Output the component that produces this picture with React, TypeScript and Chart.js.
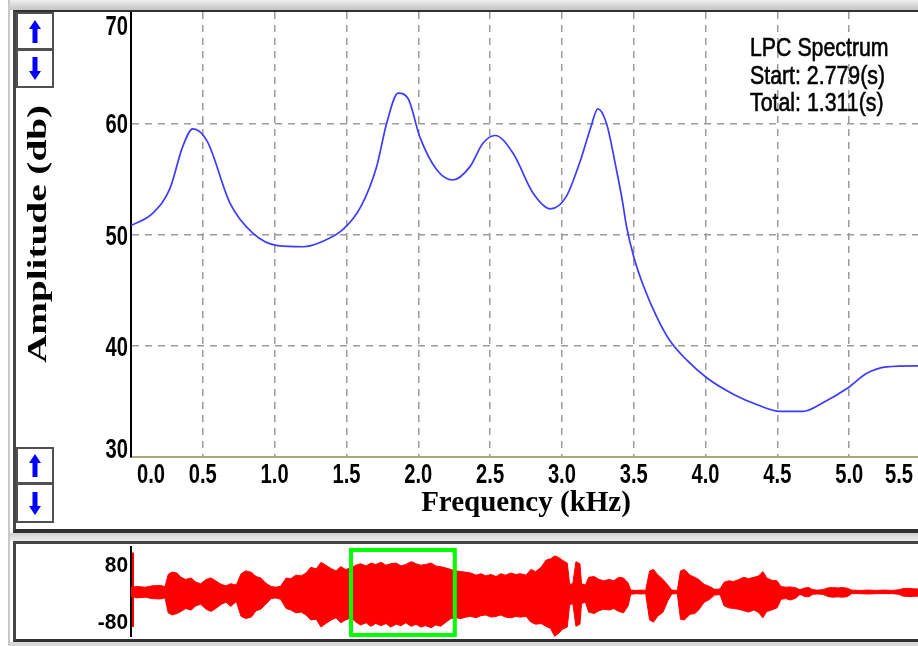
import React, { useEffect, useRef } from "react";
import { Chart, registerables } from "chart.js";

Chart.register(...registerables);

// ---------- LPC spectrum (main chart) ----------
const freqKHz = [0, 0.15, 0.27, 0.36, 0.43, 0.53, 0.69, 0.85, 1.02, 1.2, 1.32, 1.48, 1.6, 1.71, 1.78, 1.86, 1.93, 2.01, 2.13, 2.24, 2.36, 2.45, 2.535, 2.66, 2.8, 2.92, 3.03, 3.13, 3.2, 3.25, 3.31, 3.38, 3.42, 3.45, 3.5, 3.57, 3.66, 3.75, 3.87, 4.01, 4.2, 4.36, 4.52, 4.68, 4.82, 4.99, 5.12, 5.26, 5.47, 5.5];
const ampDb = [50.8, 51.9, 54.1, 57.9, 59.5, 58.4, 52.8, 50.1, 49.0, 48.9, 49.3, 50.5, 52.5, 56.1, 60.0, 62.7, 62.2, 58.8, 55.8, 54.9, 56.1, 58.2, 58.9, 57.3, 53.7, 52.3, 53.4, 56.7, 59.6, 61.3, 60.0, 55.8, 53.1, 50.7, 48.0, 45.3, 42.6, 40.5, 38.7, 37.1, 35.6, 34.7, 34.1, 34.1, 34.9, 36.2, 37.5, 38.1, 38.2, 38.2];
const freqMin = 0;
const freqMax = 5.5;
const freqStep = 0.5;
const ampMin = 30;
const ampMax = 70;
const ampStep = 10;
const xTitle = "Frequency (kHz)";
const yTitle = "Amplitude (db)";
const infoLines = ["LPC Spectrum", "Start: 2.779(s)", "Total: 1.311(s)"];

// ---------- waveform overview (bottom strip) ----------
const waveT = [0.00, 0.08, 0.18, 0.27, 0.37, 0.43, 0.47, 0.52, 0.58, 0.63, 0.69, 0.76, 0.82, 0.88, 0.95, 1.01, 1.07, 1.14, 1.20, 1.26, 1.33, 1.39, 1.45, 1.52, 1.58, 1.64, 1.70, 1.77, 1.83, 1.89, 1.96, 2.02, 2.08, 2.15, 2.21, 2.27, 2.34, 2.40, 2.46, 2.53, 2.59, 2.65, 2.71, 2.78, 2.84, 2.90, 2.97, 3.03, 3.09, 3.16, 3.22, 3.28, 3.35, 3.41, 3.47, 3.54, 3.60, 3.66, 3.72, 3.79, 3.85, 3.91, 3.98, 4.04, 4.10, 4.17, 4.23, 4.29, 4.36, 4.42, 4.48, 4.55, 4.61, 4.67, 4.73, 4.80, 4.86, 4.92, 4.99, 5.05, 5.11, 5.18, 5.24, 5.30, 5.35, 5.40, 5.45, 5.51, 5.54, 5.58, 5.62, 5.67, 5.69, 5.74, 5.78, 5.85, 5.91, 5.97, 6.04, 6.10, 6.16, 6.22, 6.28, 6.31, 6.38, 6.44, 6.50, 6.55, 6.60, 6.65, 6.72, 6.78, 6.83, 6.90, 6.94, 6.99, 7.06, 7.12, 7.17, 7.24, 7.31, 7.37, 7.44, 7.49, 7.55, 7.61, 7.68, 7.74, 7.80, 7.87, 7.93, 7.98, 8.03, 8.09, 8.16, 8.21, 8.27, 8.33, 8.40, 8.45, 8.51, 8.56, 8.61, 8.67, 8.74, 8.80, 8.86, 8.93, 8.99, 9.05, 9.10, 9.20, 9.31, 9.41, 9.51, 9.61, 9.70, 9.75, 9.81, 9.87, 9.94];
const waveHi = [12, 14, 12, 16, 17, 14, 48, 55, 52, 40, 34, 38, 26, 22, 34, 38, 30, 20, 16, 22, 18, 50, 58, 54, 42, 38, 24, 14, 12, 15, 38, 36, 46, 44, 52, 68, 64, 82, 74, 64, 58, 70, 62, 66, 74, 78, 72, 80, 76, 82, 74, 78, 80, 72, 76, 84, 78, 74, 76, 80, 72, 70, 66, 62, 58, 56, 54, 52, 46, 50, 44, 48, 42, 50, 46, 52, 48, 50, 46, 62, 56, 68, 88, 92, 100, 96, 88, 80, 20, 22, 84, 78, 22, 18, 40, 42, 34, 30, 34, 30, 40, 38, 24, 4, 3, 4, 3, 58, 62, 48, 34, 18, 4, 3, 58, 62, 46, 40, 34, 20, 14, 6, 7, 26, 30, 28, 34, 40, 36, 40, 44, 56, 38, 32, 30, 14, 12, 13, 10, 5, 10, 11, 5, 4, 5, 10, 11, 10, 11, 9, 4, 3, 4, 3, 4, 3, 5, 8, 9, 8, 7];
const waveLo = [-14, -18, -16, -20, -21, -18, -60, -66, -62, -56, -48, -52, -40, -36, -50, -56, -48, -36, -30, -42, -28, -70, -76, -72, -54, -50, -36, -20, -18, -22, -48, -52, -60, -58, -66, -80, -78, -100, -90, -80, -74, -88, -80, -74, -86, -94, -88, -98, -90, -96, -90, -100, -92, -96, -88, -98, -92, -100, -96, -102, -94, -98, -86, -76, -74, -76, -72, -70, -74, -68, -66, -72, -70, -66, -72, -74, -70, -72, -70, -86, -92, -90, -98, -104, -126, -118, -106, -100, -38, -34, -98, -92, -34, -30, -58, -62, -54, -50, -52, -48, -56, -60, -40, -8, -6, -7, -6, -80, -86, -70, -58, -26, -7, -6, -78, -80, -64, -62, -52, -30, -22, -10, -9, -40, -46, -48, -50, -54, -58, -52, -60, -74, -56, -52, -46, -22, -20, -24, -18, -8, -14, -15, -8, -7, -8, -14, -16, -15, -16, -14, -6, -6, -7, -6, -6, -6, -8, -13, -14, -14, -13];
const waveTMax = 9.94;
const waveAmpMin = -128;
const waveAmpMax = 128;
const waveTicks = [-80, 80];
const selStart = 2.779;
const selTotal = 1.311;
const selCursorHi = 58;
const selCursorLo = -72;
const startMarkerHi = 110;
const startMarkerLo = -100;

const SANS = "'Liberation Sans', Arial, sans-serif";
const SERIF = "'Liberation Serif', 'Times New Roman', serif";

function drawScaled(ctx: CanvasRenderingContext2D, text: string, x: number, y: number, align: CanvasTextAlign, sx: number) {
  ctx.save();
  ctx.translate(x, y);
  ctx.scale(sx, 1);
  ctx.textAlign = align;
  ctx.textBaseline = "alphabetic";
  ctx.fillText(text, 0, 0);
  ctx.restore();
}

function Arrow({ dir }: { dir: "up" | "down" }) {
  const pts = dir === "up"
    ? "6,0 12,9 8.5,9 8.5,23 3.5,23 3.5,9 0,9"
    : "3.5,0 8.5,0 8.5,14 12,14 6,23 0,14 3.5,14";
  return (
    <svg width={12} height={23} style={{ display: "block" }}>
      <polygon points={pts} fill="#0000ff" />
    </svg>
  );
}

function Btn({ top, height, dir }: { top: number; height: number; dir: "up" | "down" }) {
  return (
    <div
      style={{
        position: "absolute",
        left: 16,
        top,
        width: 38,
        height,
        boxSizing: "border-box",
        border: "2px solid #505050",
        background: "#fff",
        display: "flex",
        alignItems: "center",
        justifyContent: "center",
      }}
    >
      <Arrow dir={dir} />
    </div>
  );
}

export default function App() {
  const mainRef = useRef<HTMLCanvasElement | null>(null);
  const waveRef = useRef<HTMLCanvasElement | null>(null);

  useEffect(() => {
    const mainCanvas = mainRef.current;
    const waveCanvas = waveRef.current;
    if (!mainCanvas || !waveCanvas) return;

    const gridGray = "#9a9a9a";
    const clear = "rgba(0,0,0,0)";

    // tick labels in the condensed, tall style of the original, placed from the scales
    const mainTicks = {
      id: "mainTicks",
      afterDraw(chart: any) {
        const { ctx, chartArea, scales } = chart;
        const xs = scales.x;
        const ys = scales.y;
        ctx.save();
        ctx.fillStyle = "#000";
        ctx.font = `bold 28px ${SANS}`;
        ys.ticks.forEach((t: any) => {
          const py = ys.getPixelForValue(t.value);
          let base = py + 10;
          if (t.value === ampMax) base = chartArea.top + 23;
          else if (t.value === ampMin) base = chartArea.bottom + 1;
          drawScaled(ctx, String(t.value), chartArea.left - 3, base, "right", 0.72);
        });
        const n = xs.ticks.length;
        xs.ticks.forEach((t: any, i: number) => {
          const px = xs.getPixelForValue(t.value);
          let align: CanvasTextAlign = "center";
          let xx = px;
          if (i === 0) {
            align = "left";
            xx = px + 6;
          } else if (i === n - 1) {
            align = "right";
            xx = px - 8;
          }
          drawScaled(ctx, Number(t.value).toFixed(1), xx, chartArea.bottom + 26, align, 0.72);
        });
        ctx.restore();
      },
    };

    const mainChart = new Chart(mainCanvas, {
      type: "line",
      data: {
        datasets: [
          {
            data: freqKHz.map((f, i) => ({ x: f, y: ampDb[i] })),
            borderColor: "#3c3cff",
            borderWidth: 1.7,
            pointRadius: 0,
            fill: false,
            cubicInterpolationMode: "monotone",
          },
        ],
      },
      options: {
        animation: false,
        responsive: false,
        layout: { padding: { left: 0, right: 5, top: 0, bottom: 0 } },
        plugins: { legend: { display: false }, tooltip: { enabled: false } },
        scales: {
          x: {
            type: "linear",
            min: freqMin,
            max: freqMax,
            ticks: { stepSize: freqStep, display: false, autoSkip: false, maxRotation: 0 },
            grid: {
              color: (ctx: any) => (ctx.tick && ctx.tick.value === 0 ? clear : gridGray),
              lineWidth: 1.5,
              drawTicks: false,
            },
            border: { display: true, color: "#aca878", width: 2, dash: [7, 6] },
            title: {
              display: true,
              text: xTitle,
              color: "#000",
              font: { family: SERIF, size: 29, weight: "bold" },
              padding: { top: 0, bottom: 7 },
            },
            afterFit: (s: any) => {
              s.height = 71;
              s.paddingLeft = 0;
              s.paddingRight = 0;
            },
          },
          y: {
            type: "linear",
            min: ampMin,
            max: ampMax,
            ticks: { stepSize: ampStep, display: false },
            grid: {
              color: (ctx: any) =>
                ctx.tick && (ctx.tick.value === ampMin || ctx.tick.value === ampMax) ? clear : gridGray,
              lineWidth: 1.5,
              drawTicks: false,
            },
            border: { display: true, color: "#000", width: 2, dash: [7, 6] },
            afterFit: (s: any) => {
              s.width = 115;
              s.paddingTop = 0;
              s.paddingBottom = 0;
            },
          },
        },
      } as any,
      plugins: [mainTicks],
    });

    const selPlugin = {
      id: "selection",
      afterDatasetsDraw(chart: any) {
        const { ctx, chartArea, scales } = chart;
        const xs = scales.x;
        const ys = scales.y;
        const x1 = xs.getPixelForValue(selStart);
        const x2 = xs.getPixelForValue(selStart + selTotal);
        ctx.save();
        ctx.strokeStyle = "#ff0000";
        ctx.lineWidth = 2;
        const x0 = xs.getPixelForValue(0) + 2;
        ctx.beginPath();
        ctx.moveTo(x0, ys.getPixelForValue(startMarkerHi));
        ctx.lineTo(x0, ys.getPixelForValue(startMarkerLo));
        ctx.stroke();
        ctx.strokeStyle = "#0000ff";
        ctx.lineWidth = 3;
        [x1, x2].forEach((x: number) => {
          ctx.beginPath();
          ctx.moveTo(x, ys.getPixelForValue(selCursorHi));
          ctx.lineTo(x, ys.getPixelForValue(selCursorLo));
          ctx.stroke();
        });
        ctx.strokeStyle = "#00ff00";
        ctx.lineWidth = 4;
        ctx.strokeRect(x1, chartArea.top + 4, x2 - x1, chartArea.bottom - chartArea.top - 6);
        ctx.restore();
      },
      afterDraw(chart: any) {
        const { ctx, chartArea, scales } = chart;
        const ys = scales.y;
        ctx.save();
        ctx.fillStyle = "#000";
        ctx.font = `bold 22px ${SANS}`;
        ys.ticks.forEach((t: any) => {
          drawScaled(ctx, String(t.value), chartArea.left - 3, ys.getPixelForValue(t.value) + 9, "right", 0.95);
        });
        ctx.restore();
      },
    };

    const waveChart = new Chart(waveCanvas, {
      type: "line",
      data: {
        datasets: [
          {
            data: waveT.map((t, i) => ({ x: t, y: waveHi[i] })),
            borderColor: "#ff0000",
            backgroundColor: "#ff0000",
            borderWidth: 1,
            pointRadius: 0,
            tension: 0,
            fill: "+1",
          },
          {
            data: waveT.map((t, i) => ({ x: t, y: waveLo[i] })),
            borderColor: "#ff0000",
            backgroundColor: "#ff0000",
            borderWidth: 1,
            pointRadius: 0,
            tension: 0,
            fill: false,
          },
        ],
      },
      options: {
        animation: false,
        responsive: false,
        layout: { padding: 0 },
        plugins: { legend: { display: false }, tooltip: { enabled: false } },
        scales: {
          x: { type: "linear", min: 0, max: waveTMax, display: false },
          y: {
            type: "linear",
            min: waveAmpMin,
            max: waveAmpMax,
            afterBuildTicks: (s: any) => {
              s.ticks = waveTicks.map((v) => ({ value: v }));
            },
            ticks: { display: false },
            grid: { display: false, drawTicks: false },
            border: { display: true, color: "#000", width: 2 },
            afterFit: (s: any) => {
              s.width = 115;
              s.paddingTop = 0;
              s.paddingBottom = 0;
            },
          },
        },
      } as any,
      plugins: [selPlugin],
    });

    return () => {
      mainChart.destroy();
      waveChart.destroy();
    };
  }, []);

  return (
    <div
      style={{
        position: "absolute",
        left: 0,
        top: 0,
        width: 918,
        height: 646,
        overflow: "hidden",
        background: "#fff",
      }}
    >
      <div style={{ position: "absolute", left: 8, top: 0, width: 920, height: 10, background: "linear-gradient(#eeeeee, #c4c4c4)" }} />
      <div style={{ position: "absolute", left: 8, top: 0, width: 2, height: 646, background: "#c8c8c8" }} />
      <div
        style={{
          position: "absolute",
          left: 13,
          top: 10,
          width: 930,
          height: 523,
          boxSizing: "border-box",
          borderTop: "2px solid #303030",
          borderLeft: "3px solid #454545",
          borderBottom: "4px solid #303030",
          background: "#fff",
        }}
      />
      <div style={{ position: "absolute", left: 10, top: 533, width: 930, height: 8, background: "linear-gradient(#d0d0d0, #eeeeee)" }} />
      <div
        style={{
          position: "absolute",
          left: 13,
          top: 541,
          width: 930,
          height: 101,
          boxSizing: "border-box",
          borderTop: "3px solid #454545",
          borderLeft: "3px solid #454545",
          borderBottom: "3px solid #303030",
          background: "#fff",
        }}
      />
      <div style={{ position: "absolute", left: 10, top: 642, width: 930, height: 4, background: "#d8d8d8" }} />

      <canvas ref={mainRef} width={910} height={516} style={{ position: "absolute", left: 16, top: 12 }} />
      <canvas ref={waveRef} width={902} height={91} style={{ position: "absolute", left: 16, top: 546 }} />

      <Btn top={12} height={38} dir="up" />
      <Btn top={49} height={39} dir="down" />
      <Btn top={447} height={37} dir="up" />
      <Btn top={483} height={40} dir="down" />

      <div
        style={{
          position: "absolute",
          left: 37,
          top: 234,
          transform: "translate(-50%, -50%) rotate(-90deg) scaleX(1.4)",
          fontFamily: SERIF,
          fontWeight: "bold",
          fontSize: 28,
          whiteSpace: "nowrap",
          color: "#000",
        }}
      >
        {yTitle}
      </div>

      <div
        style={{
          position: "absolute",
          left: 750,
          top: 34,
          fontFamily: SANS,
          fontSize: 26,
          lineHeight: "27.7px",
          color: "#000",
          whiteSpace: "nowrap",
          transform: "scaleX(0.82)",
          transformOrigin: "left top",
          WebkitTextStroke: "0.6px #000",
        }}
      >
        {infoLines.map((l) => (
          <div key={l}>{l}</div>
        ))}
      </div>
    </div>
  );
}
